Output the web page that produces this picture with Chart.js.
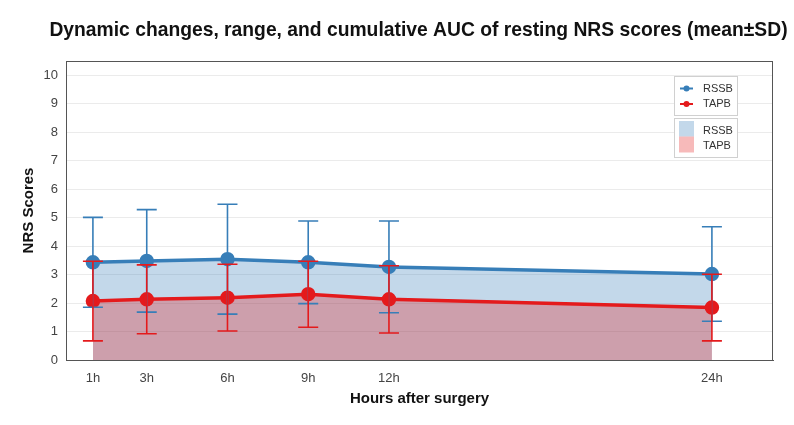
<!DOCTYPE html>
<html>
<head>
<meta charset="utf-8">
<script src="https://cdn.jsdelivr.net/npm/chart.js@4/dist/chart.umd.min.js"></script>
<style>
  html, body { margin: 0; padding: 0; background: #fff; }
  #wrap { width: 794px; height: 425px; }
</style>
</head>
<body>
<div id="wrap"><canvas id="c" width="794" height="425"></canvas></div>
<script>
// data
const hours = [1, 3, 6, 9, 12, 24];
const rssbMean = [3.43, 3.48, 3.54, 3.43, 3.27, 3.02];
const rssbSd = [1.58, 1.80, 1.93, 1.45, 1.61, 1.66];
const tapbMean = [2.07, 2.13, 2.19, 2.31, 2.13, 1.84];
const tapbSd = [1.40, 1.21, 1.17, 1.16, 1.18, 1.17];
const yTicks = [0, 1, 2, 3, 4, 5, 6, 7, 8, 9, 10];
const titleText = 'Dynamic changes, range, and cumulative AUC of resting NRS scores (mean\u00b1SD)';

const BLUE = '#377eb8';
const RED = '#e41a1c';
const BLUE_FILL = 'rgba(55,126,184,0.30)';
const RED_FILL = 'rgba(228,26,28,0.30)';
const FONT = '"Liberation Sans", Arial, sans-serif';

const toPts = (m) => hours.map((h, i) => ({ x: h, y: m[i] }));

// error bars, drawn through the scales
const errorBars = {
  id: 'errorBars',
  afterDatasetsDraw(chart) {
    const { ctx, scales: { x, y } } = chart;
    const groups = [[rssbMean, rssbSd, BLUE], [tapbMean, tapbSd, RED]];
    ctx.save();
    ctx.lineWidth = 1.6;
    groups.forEach(([m, sd, col]) => {
      ctx.strokeStyle = col;
      hours.forEach((h, i) => {
        const px = x.getPixelForValue(h);
        const top = y.getPixelForValue(m[i] + sd[i]);
        const bot = y.getPixelForValue(m[i] - sd[i]);
        ctx.beginPath();
        ctx.moveTo(px, top); ctx.lineTo(px, bot);
        ctx.moveTo(px - 10, top); ctx.lineTo(px + 10, top);
        ctx.moveTo(px - 10, bot); ctx.lineTo(px + 10, bot);
        ctx.stroke();
      });
    });
    ctx.restore();
  }
};

// title, frame round the plot and the two-part legend
const frameLegend = {
  id: 'frameLegend',
  afterDraw(chart) {
    const { ctx, chartArea: a } = chart;
    ctx.save();
    ctx.fillStyle = '#111';
    ctx.font = 'bold 19.3px ' + FONT;
    ctx.textAlign = 'center';
    ctx.textBaseline = 'middle';
    ctx.fillText(titleText, 418.5, 31);
    ctx.textAlign = 'left';

    ctx.strokeStyle = '#555';
    ctx.lineWidth = 1;
    ctx.strokeRect(a.left + 0.5, a.top + 0.5, a.right - a.left - 1, a.bottom - a.top);

    const lx = a.right - 99;
    ctx.strokeStyle = '#d0d0d0';
    ctx.fillStyle = '#fff';
    ctx.fillRect(lx, 76, 63, 39);
    ctx.strokeRect(lx + 0.5, 76.5, 63, 39);
    ctx.fillRect(lx, 118, 63, 39);
    ctx.strokeRect(lx + 0.5, 118.5, 63, 39);

    ctx.font = '11px ' + FONT;
    const rows = [['RSSB', BLUE, 88.5], ['TAPB', RED, 104]];
    rows.forEach(([t, c, yy]) => {
      ctx.strokeStyle = c; ctx.fillStyle = c; ctx.lineWidth = 2;
      ctx.beginPath(); ctx.moveTo(lx + 6, yy); ctx.lineTo(lx + 19, yy); ctx.stroke();
      ctx.beginPath(); ctx.arc(lx + 12.5, yy, 3, 0, Math.PI * 2); ctx.fill();
      ctx.fillStyle = '#333';
      ctx.fillText(t, lx + 29, yy);
    });
    ctx.fillStyle = BLUE_FILL; ctx.fillRect(lx + 5, 121, 15, 15.5);
    ctx.fillStyle = RED_FILL; ctx.fillRect(lx + 5, 136.5, 15, 16);
    ctx.fillStyle = '#333';
    ctx.fillText('RSSB', lx + 29, 130.5);
    ctx.fillText('TAPB', lx + 29, 146);
    ctx.restore();
  }
};

new Chart(document.getElementById('c'), {
  type: 'line',
  data: {
    datasets: [
      {
        label: 'RSSB', data: toPts(rssbMean), order: 1,
        borderColor: BLUE, backgroundColor: BLUE_FILL, fill: 'origin',
        borderWidth: 3.5, pointRadius: 5.5, pointBackgroundColor: BLUE,
        pointBorderColor: BLUE, tension: 0
      },
      {
        label: 'TAPB', data: toPts(tapbMean), order: 0,
        borderColor: RED, backgroundColor: RED_FILL, fill: 'origin',
        borderWidth: 3.5, pointRadius: 5.5, pointBackgroundColor: RED,
        pointBorderColor: RED, tension: 0
      }
    ]
  },
  options: {
    responsive: false,
    animation: false,
    layout: { padding: { left: 0, right: 21, top: 61, bottom: 0 } },
    plugins: {
      legend: { display: false },
      tooltip: { enabled: false },
      title: { display: false }
    },
    scales: {
      x: {
        type: 'linear', min: 0, max: 26.27,
        afterBuildTicks: (s) => { s.ticks = hours.map(v => ({ value: v })); },
        afterFit: (s) => { s.height = 65; },
        grid: { display: false },
        border: { display: true, color: '#555' },
        ticks: {
          callback: (v) => v + 'h', color: '#444', maxRotation: 0, padding: 3,
          font: { family: FONT, size: 13 }
        },
        title: {
          display: true, text: 'Hours after surgery', color: '#111',
          font: { family: FONT, size: 15, weight: 'bold' },
          padding: { top: 0, bottom: 17 }
        }
      },
      y: {
        min: 0, max: 10.5,
        afterBuildTicks: (s) => { s.ticks = yTicks.map(v => ({ value: v })); },
        afterFit: (s) => { s.width = 66; },
        grid: { color: '#ebebeb', drawTicks: false },
        border: { display: true, color: '#555' },
        ticks: {
          color: '#444', padding: 8,
          font: { family: FONT, size: 13 }
        },
        title: {
          display: true, text: 'NRS Scores', color: '#111',
          font: { family: FONT, size: 15, weight: 'bold' },
          padding: { top: 20, bottom: 0 }
        }
      }
    }
  },
  plugins: [errorBars, frameLegend]
});
</script>
</body>
</html>
